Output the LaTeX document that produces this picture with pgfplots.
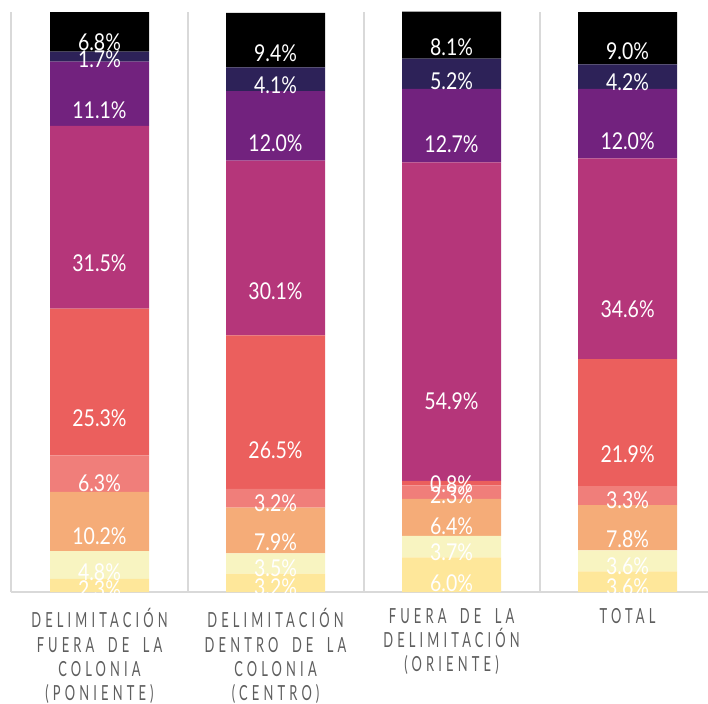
\documentclass[border=0pt]{standalone}
\usepackage{fontspec}
\setmainfont{Lato}[FakeStretch=0.84]
\newfontfamily\tickfont{Lato}[FakeStretch=0.62, LetterSpace=20, WordSpace=1.8]
\usepackage{pgfplots}
\pgfplotsset{compat=1.18}
\usepackage{pgfplotstable}

\definecolor{c1}{HTML}{FEE79A}
\definecolor{c2}{HTML}{F8F4C1}
\definecolor{c3}{HTML}{F5AC78}
\definecolor{c4}{HTML}{F07E7A}
\definecolor{c5}{HTML}{EB5F5D}
\definecolor{c6}{HTML}{B5367A}
\definecolor{c7}{HTML}{72227E}
\definecolor{c8}{HTML}{2D2258}
\definecolor{c9}{HTML}{000000}
\definecolor{sepgray}{HTML}{D9D9D9}
\definecolor{tickgray}{HTML}{5E5E5E}

% shift a label down by half its segment (the key ends up applied twice)
\tikzset{calc offset/.code={
    \pgfkeys{/pgf/fpu=true,/pgf/fpu/output format=fixed}
    \pgfmathsetmacro\segoff{\pgfplotspointmeta*0.725}
    \pgfkeys{/pgf/fpu=false}
    \pgfkeysalso{/tikz/yshift=-\segoff pt}
}}

% bottom to top segments, one row per group
\pgfplotstableread{
x s1  s2  s3   s4  s5   s6   s7   s8  s9
0 2.3 4.8 10.2 6.3 25.3 31.5 11.1 1.7 6.8
1 3.2 3.5 7.9  3.2 26.5 30.1 12.0 4.1 9.4
2 6.0 3.7 6.4  2.3 0.8  54.9 12.7 5.2 8.1
3 3.6 3.6 7.8  3.3 21.9 34.6 12.0 4.2 9.0
}\data

\begin{document}
\begin{tikzpicture}
\begin{axis}[
    ybar stacked,
    bar width=49.5pt,
    scale only axis,
    width=354pt, height=296pt,
    xmin=-0.5653, xmax=3.457,
    ymin=0, ymax=102.07,
    axis line style={draw=none},
    ytick=\empty,
    xtick={0,1,2,3},
    major tick length=0pt,
    xticklabels={
        DELIMITACIÓN\\FUERA DE LA\\COLONIA\\(PONIENTE),
        DELIMITACIÓN\\DENTRO DE LA\\COLONIA\\(CENTRO),
        FUERA DE LA\\DELIMITACIÓN\\(ORIENTE),
        TOTAL},
    xticklabel style={align=center, anchor=north, inner sep=0pt, yshift=-8pt,
        text=tickgray, font=\tickfont\fontsize{10.4}{12.1}\selectfont},
    point meta=explicit,
    nodes near coords={\pgfmathprintnumber[fixed, fixed zerofill, precision=1]{\pgfplotspointmeta}\%},
    /pgf/number format/assume math mode=true,
    every node near coord/.append style={
        calc offset,
        anchor=center, text=white, inner sep=0pt,
        font=\fontsize{11.6}{13}\selectfont
    },
]
\addplot[fill=c1, draw=none] table[x=x, y=s1, meta=s1] {\data};
\addplot[fill=c2, draw=none] table[x=x, y=s2, meta=s2] {\data};
\addplot[fill=c3, draw=none] table[x=x, y=s3, meta=s3] {\data};
\addplot[fill=c4, draw=none] table[x=x, y=s4, meta=s4] {\data};
\addplot[fill=c5, draw=none] table[x=x, y=s5, meta=s5] {\data};
\addplot[fill=c6, draw=none] table[x=x, y=s6, meta=s6] {\data};
\addplot[fill=c7, draw=none] table[x=x, y=s7, meta=s7] {\data};
\addplot[fill=c8, draw=none] table[x=x, y=s8, meta=s8] {\data};
\addplot[fill=c9, draw=none] table[x=x, y=s9, meta=s9] {\data};
% separators and base line
\foreach \s in {-0.5,0.5,1.5,2.5} {
    \edef\tmp{\noexpand\draw[sepgray, line width=1pt] (axis cs:\s,0) -- (axis cs:\s,100);}
    \tmp
}
\draw[sepgray, line width=1pt] (axis cs:-0.5,0) -- (axis cs:3.457,0);
\end{axis}
\end{tikzpicture}
\end{document}
